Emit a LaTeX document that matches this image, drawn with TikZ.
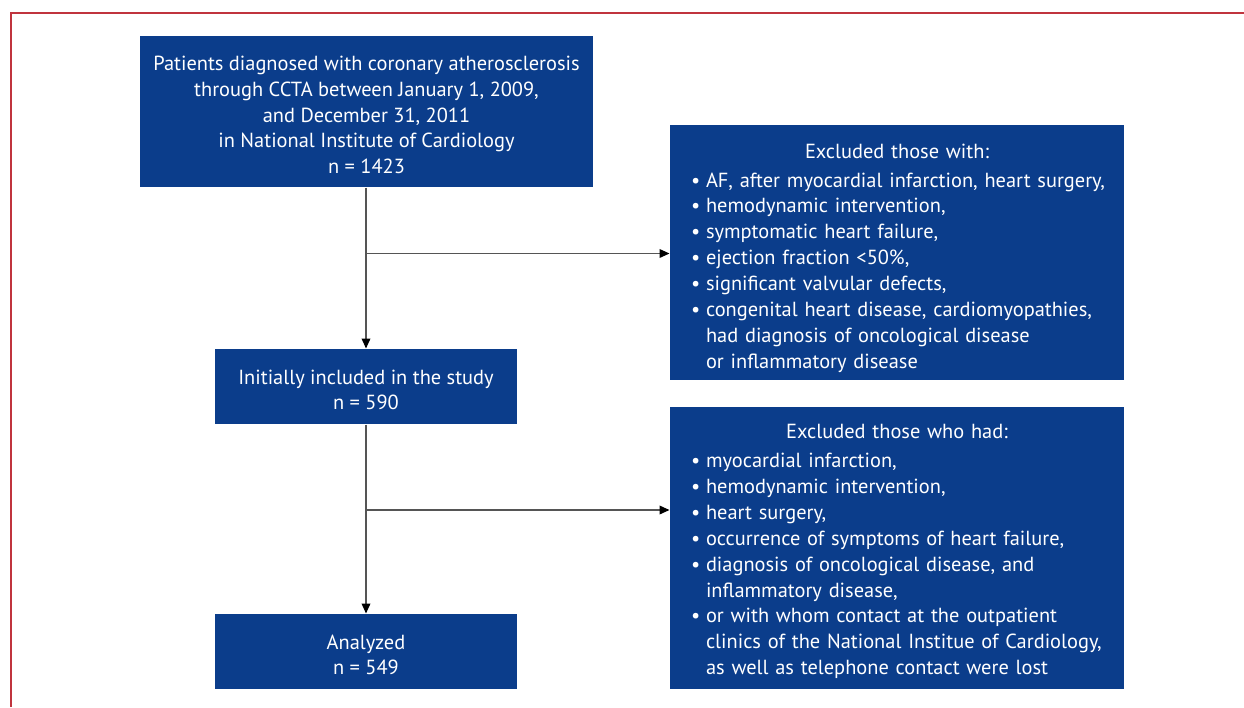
\documentclass[tikz,border=0pt]{standalone}
\usepackage{fontspec}
\setmainfont{PT Sans}
\usetikzlibrary{arrows.meta}
\definecolor{boxblue}{RGB}{11,61,139}
\definecolor{framered}{RGB}{192,52,62}
\definecolor{linegray}{RGB}{85,85,85}
\newcommand{\boxfont}{\fontsize{15.3}{19.4}\selectfont}
\newcommand{\bul}{\makebox[11.25pt][l]{\textbullet}}
\newcommand{\hang}{\hspace*{11.25pt}}
\newcommand{\topgap}{\rule{0pt}{16pt}}
\tikzset{every picture/.style={line width=0.75pt}}

\begin{document}
\begin{tikzpicture}[x=0.75pt,y=0.75pt,yscale=-1,xscale=1,
  stepbox/.style={fill=boxblue,text=white,font=\boxfont,align=center,inner sep=0pt},
  exclbox/.style={fill=boxblue,text=white,font=\boxfont,align=left,text width=309pt,inner xsep=15.75pt,inner ysep=0pt},
  flow/.style={draw=linegray,line width=1.1pt,-{Triangle[length=7.5pt,width=6.5pt,black]}}]
		\useasboundingbox (0,0) rectangle (1244,707);
		
		%Straight Lines: frame
		\draw [color=framered ,line width=1.5]   (10.5,707) -- (10.5,13) -- (1244,13) ;
		
		%Shape: Rectangle + Text Node
		\node [stepbox, minimum width=339.75pt, minimum height=113.25pt] (pat) at (366.5,111.5) {\topgap Patients diagnosed with coronary atherosclerosis\\ through CCTA between January 1, 2009,\\ and December 31, 2011\\ in National Institute of Cardiology\\ n = 1423};
		%Shape: Rectangle + Text Node
		\node [stepbox, minimum width=226.5pt, minimum height=56.25pt] (init) at (366,386.5) {\topgap Initially included in the study\\ n = 590};
		%Shape: Rectangle + Text Node
		\node [stepbox, minimum width=226.5pt, minimum height=56.25pt] (anl) at (366,651.5) {\topgap Analyzed\\ n = 549};
		
		%Shape: Rectangle + Text Node
		\node [exclbox, minimum height=191.25pt] (exa) at (897,252.5) {\rule{0pt}{19pt}\makebox[309pt][c]{Excluded those with:}\\[2.4pt]
			\bul\mbox{AF, after myocardial infarction, heart surgery,}\\
			\bul hemodynamic intervention,\\
			\bul symptomatic heart failure,\\
			\bul ejection fraction <50\%,\\
			\bul significant valvular defects,\\
			\bul\mbox{congenital heart disease, cardiomyopathies,}\\
			\hang had diagnosis of oncological disease\\
			\hang or inflammatory disease};
		%Shape: Rectangle + Text Node
		\node [exclbox, minimum height=211.5pt] (exb) at (897,548) {\topgap\makebox[309pt][c]{Excluded those who had:}\\[2.4pt]
			\bul myocardial infarction,\\
			\bul hemodynamic intervention,\\
			\bul heart surgery,\\
			\bul occurrence of symptoms of heart failure,\\
			\bul diagnosis of oncological disease, and\\
			\hang inflammatory disease,\\
			\bul or with whom contact at the outpatient\\
			\hang\mbox{clinics of the National Institue of Cardiology,}\\
			\hang as well as telephone contact were lost};
		
		%Straight Lines: branch points
		\coordinate (ja) at (366,253.5) ;
		\coordinate (jb) at (366,510) ;
		
		%Straight Lines with arrows
		\draw [flow]   (pat.south -| init.north) -- (init.north) ;
		\draw [flow]   (ja) -- (ja -| exa.west) ;
		\draw [flow]   (init.south) -- (anl.north) ;
		\draw [flow]   (jb) -- (jb -| exb.west) ;
		
\end{tikzpicture}
\end{document}
